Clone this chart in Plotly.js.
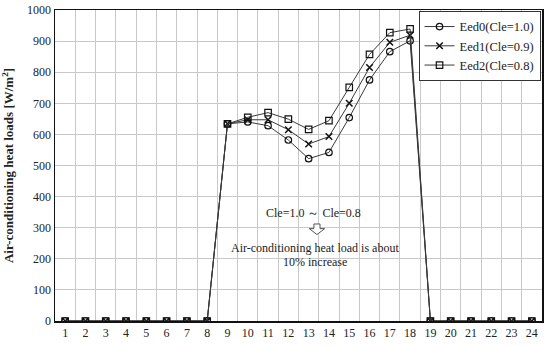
<!DOCTYPE html>
<html><head><meta charset="utf-8">
<script src="https://cdn.plot.ly/plotly-3.0.1.min.js"></script>
<style>html,body{margin:0;padding:0;background:#fff}#chart{width:550px;height:345px}</style>
</head><body><div id="chart"></div>
<script>
var hours = [1,2,3,4,5,6,7,8,9,10,11,12,13,14,15,16,17,18,19,20,21,22,23,24];
var tickLabels = hours.map(String);
var eed0 = [0,0,0,0,0,0,0,0,634,640,628,582,522,542,654,775,866,901,0,0,0,0,0,0];
var eed1 = [0,0,0,0,0,0,0,0,634,647,647,615,569,593,700,815,896,919,0,0,0,0,0,0];
var eed2 = [0,0,0,0,0,0,0,0,634,655,670,649,616,644,751,857,927,939,0,0,0,0,0,0];
var names = ['Eed0(Cle=1.0)','Eed1(Cle=0.9)','Eed2(Cle=0.8)'];
var symbols = ['circle-open','x-thin-open','square-open'];
var series = [eed0, eed1, eed2];
var serif = 'Liberation Serif, Times New Roman, serif';
var traces = series.map(function(s,i){
  return {x: hours, y: s, name: names[i], type:'scatter', mode:'lines+markers',
    line:{color:'#3a3a3a', width:1},
    marker:{symbol: symbols[i], size: 6.5, color:'#111', line:{color:'#111', width: i===1?1.5:1.2}}};
});
var layout = {
  width:550, height:345,
  margin:{l:55, r:8, t:10, b:24},
  paper_bgcolor:'#fff', plot_bgcolor:'#fff',
  font:{family:serif, size:12, color:'#222'},
  showlegend:true,
  legend:{x:0.997, y:0.997, xanchor:'right', yanchor:'top', bgcolor:'#fff', bordercolor:'#333', borderwidth:1,
    font:{family:serif, size:12.5, color:'#222'}, tracegroupgap:0, itemwidth:30},
  xaxis:{range:[0.5,24.5], tickmode:'array', tickvals:hours, ticktext:tickLabels, showgrid:false,
    showline:true, mirror:true, linecolor:'#111', linewidth:1.5, ticks:'', zeroline:false,
    tickfont:{family:serif, size:12, color:'#222'},
    minor:{tickvals:hours.map(function(h){return h+0.5;}), showgrid:true, gridcolor:'#c8c8c8', gridwidth:1}},
  yaxis:{range:[0,1000], dtick:100, showgrid:true, gridcolor:'#c8c8c8', gridwidth:1,
    showline:true, mirror:true, linecolor:'#111', linewidth:1.5, ticks:'', zeroline:false,
    tickfont:{family:serif, size:12, color:'#222'},
    title:{text:'<b>Air-conditioning heat loads [W/m<sup>2</sup>]</b>', font:{family:serif, size:13, color:'#222'}, standoff:10}},
  shapes:[
    {type:'rect', xref:'x', yref:'y', x0:8.88, x1:17.75, y0:180, y1:379,
      fillcolor:'#fff', line:{width:0}, layer:'below'},
    {type:'path', xref:'x', yref:'y', layer:'above',
      path:'M 13.26,312 L 13.56,312 L 13.56,297 L 13.79,297 L 13.41,278 L 13.03,297 L 13.26,297 Z',
      fillcolor:'#fff', line:{color:'#555', width:1}}
  ],
  annotations:[
    {xref:'x', yref:'y', x:13.22, y:347, yanchor:'middle', text:'Cle=1.0 \uFF5E Cle=0.8', showarrow:false,
      font:{family:serif, size:12, color:'#222'}},
    {xref:'x', yref:'y', x:13.3, y:235, yanchor:'middle', text:'Air-conditioning heat load is about', showarrow:false,
      font:{family:serif, size:12, color:'#222'}},
    {xref:'x', yref:'y', x:13.3, y:190, yanchor:'middle', text:'10% increase', showarrow:false,
      font:{family:serif, size:12, color:'#222'}}
  ]
};
Plotly.newPlot('chart', traces, layout, {staticPlot:true});
</script></body></html>
